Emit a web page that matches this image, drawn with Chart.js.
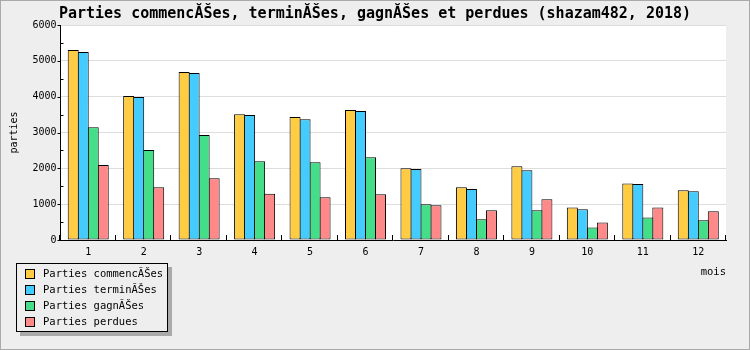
<!DOCTYPE html>
<html>
<head>
<meta charset="utf-8">
<title>Parties shazam482 2018</title>
<script src="https://cdn.jsdelivr.net/npm/chart.js@4/dist/chart.umd.min.js"></script>
<style>
	html, body { margin: 0; padding: 0; background: #eee; }
	canvas { display: block; }
</style>
</head>
<body>
<canvas id="chart" width="750" height="350"></canvas>
<script>
// donnees
const mois = ['1', '2', '3', '4', '5', '6', '7', '8', '9', '10', '11', '12'];
const commencees = [5300, 4020, 4690, 3510, 3430, 3625, 2000, 1470, 2060, 910, 1580, 1390];
const terminees  = [5250, 3990, 4660, 3485, 3370, 3600, 1980, 1420, 1950, 860, 1560, 1360];
const gagnees    = [3150, 2510, 2930, 2200, 2170, 2310, 1000, 580, 830, 350, 630, 550];
const perdues    = [2090, 1470, 1720, 1290, 1190, 1280, 970, 830, 1140, 490, 910, 800];
const noms = ['Parties commencĂŠes', 'Parties terminĂŠes', 'Parties gagnĂŠes', 'Parties perdues'];
const yMax = 6000;
const yMajor = 1000;
const yMinor = 500;

const couleurs = ['#ffcc44', '#44ccff', '#44dd88', '#ff8888'];
const mono = "'DejaVu Sans Mono', monospace";

const decor = {
	id: 'decor',
	beforeDraw(chart){
		const {ctx, chartArea: a, width, height} = chart;
		ctx.save();
		ctx.fillStyle = '#eee';
		ctx.fillRect(0, 0, width, height);
		ctx.strokeStyle = '#aaa';
		ctx.lineWidth = 1;
		ctx.strokeRect(0.5, 0.5, width - 1, height - 1);
		ctx.fillStyle = '#fff';
		ctx.fillRect(a.left, a.top, a.right - a.left, a.bottom - a.top);
		ctx.restore();
	},
	afterDraw(chart){
		const {ctx, chartArea: a} = chart;
		const xs = chart.scales.x, ys = chart.scales.y;
		ctx.save();
		ctx.strokeStyle = '#000';
		ctx.lineWidth = 1;
		ctx.beginPath();
		// petites graduations de l'axe y
		for(let v = 0; v <= yMax; v += yMinor){
			const py = Math.round(ys.getPixelForValue(v)) + 0.5;
			if(v % yMajor === 0){
				ctx.moveTo(a.left - 3, py);
				ctx.lineTo(a.left, py);
			}else{
				ctx.moveTo(a.left, py);
				ctx.lineTo(a.left + 3, py);
			}
		}
		// graduations entre les mois
		const step = xs.width / mois.length;
		for(let i = 0; i <= mois.length; i++){
			const px = Math.round(xs.getPixelForValue(i) - step / 2) - 0.5;
			ctx.moveTo(px, a.bottom);
			ctx.lineTo(px, a.bottom - 5);
		}
		ctx.stroke();

		// legende
		const lx = 16, ly = 263, lw = 152, lh = 69;
		ctx.fillStyle = '#aaa';
		ctx.fillRect(lx + 4, ly + 4, lw, lh);
		ctx.fillStyle = '#eee';
		ctx.fillRect(lx, ly, lw, lh);
		ctx.strokeRect(lx + 0.5, ly + 0.5, lw - 1, lh - 1);
		ctx.font = '10.5px ' + mono;
		ctx.textBaseline = 'middle';
		chart.data.datasets.forEach(function(ds, i){
			const cy = ly + 11 + i * 16;
			ctx.fillStyle = ds.backgroundColor;
			ctx.fillRect(lx + 9, cy - 5, 10, 10);
			ctx.strokeRect(lx + 9.5, cy - 4.5, 9, 9);
			ctx.fillStyle = '#000';
			ctx.fillText(ds.label, lx + 27, cy);
		});
		ctx.restore();
	}
};

const series = [commencees, terminees, gagnees, perdues];

new Chart(document.getElementById('chart'), {
	type: 'bar',
	data: {
		labels: mois,
		datasets: series.map(function(d, i){
			return {
				label: noms[i],
				data: d,
				backgroundColor: couleurs[i],
				borderColor: '#000',
				borderWidth: 1,
				borderSkipped: false,
				inflateAmount: 0,
				barPercentage: 1.1,
				categoryPercentage: 0.7218
			};
		})
	},
	options: {
		responsive: false,
		animation: false,
		layout: {
			padding: 0
		},
		plugins: {
			legend: { display: false },
			tooltip: { enabled: false },
			title: {
				display: true,
				text: 'Parties commencĂŠes, terminĂŠes, gagnĂŠes et perdues (shazam482, 2018)',
				color: '#000',
				font: { family: mono, size: 15, weight: 'bold' },
				padding: { top: 5, bottom: 2 }
			}
		},
		scales: {
			x: {
				afterFit: function(scale){ scale.height = 110; },
				grid: { drawOnChartArea: false, drawTicks: false },
				border: { color: '#000', width: 1 },
				ticks: {
					color: '#000',
					font: { family: mono, size: 10 },
					padding: 6,
					autoSkip: false,
					maxRotation: 0
				},
				title: {
					display: true,
					text: 'mois',
					align: 'end',
					color: '#000',
					font: { family: mono, size: 10.5 },
					padding: { top: 0, bottom: 71 }
				}
			},
			y: {
				min: 0,
				max: yMax,
				afterFit: function(scale){ scale.width = 60.5; },
				grid: {
					drawTicks: false,
					color: function(c){
						return c.tick && c.tick.value % yMajor === 0 ? '#ddd' : 'rgba(0,0,0,0)';
					}
				},
				border: { color: '#000', width: 1 },
				ticks: {
					stepSize: yMinor,
					color: '#000',
					font: { family: mono, size: 10 },
					padding: 4,
					callback: function(v){ return v % yMajor === 0 ? v : ''; }
				},
				title: {
					display: true,
					text: 'parties',
					color: '#000',
					font: { family: mono, size: 10 },
					padding: { top: 8, bottom: 0 }
				}
			},
			// marge a droite de la zone de trace
			marge: {
				position: 'right',
				afterFit: function(scale){ scale.width = 24; },
				grid: { display: false },
				border: { display: false },
				ticks: { display: false }
			}
		}
	},
	plugins: [decor]
});
</script>
</body>
</html>
